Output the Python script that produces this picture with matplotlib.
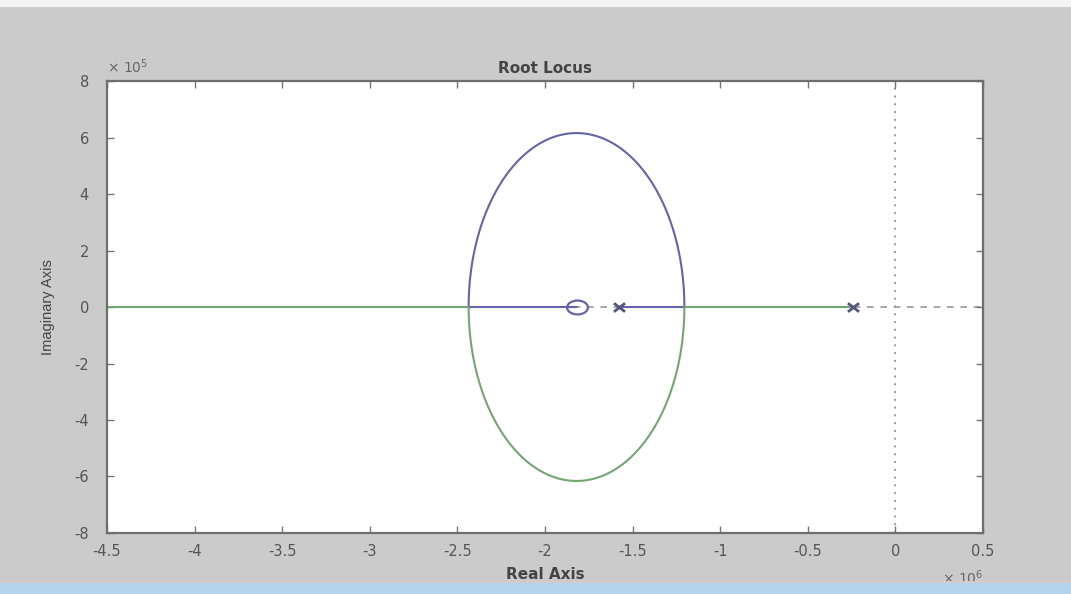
import numpy as np
import matplotlib
matplotlib.use("Agg")
import matplotlib.pyplot as plt
from matplotlib.patches import Rectangle
from matplotlib.path import Path
from matplotlib.transforms import Affine2D
from matplotlib.ticker import FuncFormatter

plt.rcParams['font.family'] = ['DejaVu Sans']

# open-loop system: two real poles, one real zero
poles = [-1.58e6, -0.24e6]
zeros = [-1.82e6]

x_ticks = [-4.5, -4, -3.5, -3, -2.5, -2, -1.5, -1, -0.5, 0, 0.5]   # x 10^6
y_ticks = [-8, -6, -4, -2, 0, 2, 4, 6, 8]                           # x 10^5

# closed loop: s^2 + b(K) s + c(K) = 0 with
# b = K - (p1 + p2), c = p1 p2 - K z
p1, p2 = poles
z = zeros[0]
# gains where the discriminant is zero (break-away / break-in points)
k_break = np.sort(np.roots([1.0, -2 * (p1 + p2) + 4 * z, (p1 + p2) ** 2 - 4 * p1 * p2]).real)
gains = np.sort(np.concatenate([[0.0], np.logspace(1, 8.5, 20000),
                                np.linspace(k_break[0], k_break[1], 4000)]))
b = gains - (p1 + p2)
c = p1 * p2 - gains * z
disc = b ** 2 - 4 * c
root = np.sqrt(np.abs(disc))
cplx = disc < 0
sign = np.where(gains <= k_break[0], -1.0, 1.0)
# first branch: leaves the pole at p1, upper half plane, ends at the zero
upper = np.where(cplx, -b / 2 + 0.5j * root, (-b + sign * root) / 2)
# second branch: leaves the pole at p2, lower half plane, runs off to -inf
lower = np.where(cplx, -b / 2 - 0.5j * root, (-b - sign * root) / 2)

fig = plt.figure(figsize=(10.71, 5.94), dpi=100, facecolor='#cbcbcb')
fig.patches.append(Rectangle((0, 0.988), 1, 0.012, transform=fig.transFigure,
                             facecolor='#f4f4f4', edgecolor='none'))
fig.patches.append(Rectangle((0, 0), 1, 0.018, transform=fig.transFigure,
                             facecolor='#b4d4ee', edgecolor='none'))
fig.patches.append(Rectangle((0, 0.018), 1, 0.004, transform=fig.transFigure,
                             facecolor='#d8c8c8', edgecolor='none'))

ax = fig.add_axes([0.0999, 0.1027, 0.8179, 0.7609])
ax.set_facecolor('white')

# reference axes through the origin
ax.axhline(0, color='#9a9a9a', lw=1.2, ls=(0, (4, 4)), zorder=1)
ax.axvline(0, color='#9a9a9a', lw=1.4, ls=(0, (1, 3)), zorder=1)

blue = '#6464aa'
green = '#74a674'
ax.plot(upper.real, upper.imag, color=blue, lw=1.5, zorder=2)
ax.plot(lower.real, lower.imag, color=green, lw=1.5, zorder=2)

wide_o = Path.unit_circle().transformed(Affine2D().scale(1.5, 1.0))
wide_x = Path([(-1.3, -1), (1.3, 1), (-1.3, 1), (1.3, -1)],
              [Path.MOVETO, Path.LINETO, Path.MOVETO, Path.LINETO])
ax.plot(poles, [0, 0], ls='none', marker=wide_x, ms=8, mew=2, color='#55557a', zorder=3)
ax.plot(zeros, [0], ls='none', marker=wide_o, ms=15, mew=1.6, mfc='none', color=blue, zorder=3)

ax.set_xlim(-4.5e6, 0.5e6)
ax.set_ylim(-8e5, 8e5)
ax.set_xticks([v * 1e6 for v in x_ticks])
ax.set_yticks([v * 1e5 for v in y_ticks])
ax.xaxis.set_major_formatter(FuncFormatter(lambda v, _: f"{v / 1e6:g}"))
ax.yaxis.set_major_formatter(FuncFormatter(lambda v, _: f"{v / 1e5:g}"))

ax.tick_params(direction='in', length=5, width=1, colors='#777777',
               labelcolor='#555555', labelsize=10.5, top=True, right=True)
ax.tick_params(axis='x', pad=8)
ax.tick_params(axis='y', pad=13)
for s in ax.spines.values():
    s.set_color('#6e6e6e')
    s.set_linewidth(1.6)

ax.set_title('Root Locus', fontsize=11, fontweight='bold', color='#444444', pad=6)
ax.set_xlabel('Real Axis', fontsize=11, fontweight='bold', color='#444444', labelpad=6)
ax.set_ylabel('Imaginary Axis', family='Liberation Sans', fontsize=10.5,
              color='#444444', labelpad=14)

ax.text(0.0, 1.012, r'$\times$ 10$^5$', transform=ax.transAxes, fontsize=10,
        color='#666666', ha='left', va='bottom')
ax.text(1.0, -0.098, r'$\times$ 10$^6$', transform=ax.transAxes, fontsize=10,
        color='#666666', ha='right', va='center')

fig.savefig('out.png', dpi=100, facecolor=fig.get_facecolor())
